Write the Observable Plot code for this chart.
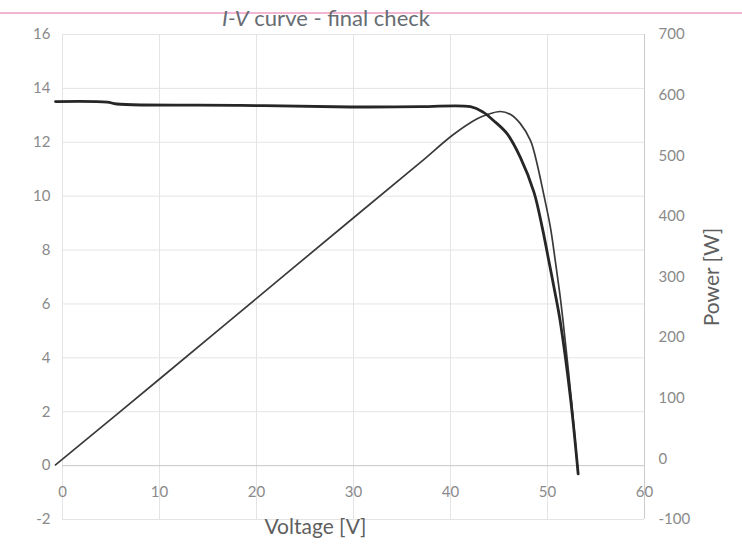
<!DOCTYPE html>
<html><head><meta charset="utf-8">
<script src="https://cdn.jsdelivr.net/npm/d3@7"></script>
<script src="https://cdn.jsdelivr.net/npm/@observablehq/plot@0.6"></script>
<style>
body{margin:0;background:#fff;}
#wrap{position:relative;width:742px;height:551px;font-family:Lato,"Open Sans",sans-serif;overflow:hidden;}
#chart{position:absolute;left:0;top:0;}
#rule{position:absolute;left:0;top:12px;width:742px;height:2px;background:#f2b6d2;}
#title{position:absolute;top:7px;left:0;width:652px;text-align:center;font-size:22px;line-height:22px;color:#666c72;white-space:nowrap;}
</style></head><body>
<div id="wrap"><div id="chart"></div><div id="rule"></div><div id="title"><i>I-V</i> curve - final check</div></div>
<script>
// I-V curve (current vs voltage)
const voltageIV = [-0.72, 4.6, 5.6, 18.4, 29.7, 36.9, 42.06, 43.4, 44.46, 45.85, 47.2, 48.6, 49.45, 50.13, 50.8, 51.3, 52.4, 53.16];
const currentIV = [13.51, 13.49, 13.42, 13.37, 13.31, 13.32, 13.32, 13.11, 12.8, 12.31, 11.44, 10.15, 8.85, 7.61, 6.37, 5.38, 2.41, -0.31];
// P-V curve (power vs voltage)
const voltageP = [-0.72, 10.1, 20.1, 30.1, 36.9, 40.3, 42.75, 43.8, 45.15, 46.2, 47.2, 48.25, 48.8, 49.6, 50.3, 50.8, 51.27, 51.6, 52.47, 53.16];
const power = [-10, 133, 266, 399, 489, 535, 561, 568, 573, 568, 553, 525, 495, 437, 382, 327, 272, 228, 96, -25];
// axes
const xTicks = [0, 10, 20, 30, 40, 50, 60];
const currentTicks = [-2, 0, 2, 4, 6, 8, 10, 12, 14, 16];
const powerTicks = [-100, 0, 100, 200, 300, 400, 500, 600, 700];

const currentDomain = [-2, 16];
const powerDomain = [-100, 700];
const toI = p => (p - powerDomain[0]) * (currentDomain[1] - currentDomain[0]) / (powerDomain[1] - powerDomain[0]) + currentDomain[0];
const toP = i => Math.round((i - currentDomain[0]) * (powerDomain[1] - powerDomain[0]) / (currentDomain[1] - currentDomain[0]) + powerDomain[0]);

const ivData = voltageIV.map((v, k) => ({v, i: currentIV[k]}));
const pData = voltageP.map((v, k) => ({v, y: toI(power[k])}));

const chart = Plot.plot({
  width: 742,
  height: 551,
  marginLeft: 62,
  marginRight: 98,
  marginTop: 34,
  marginBottom: 32,
  style: {fontFamily: "Lato, 'Open Sans', sans-serif", background: "transparent"},
  x: {domain: [0, 60], axis: null},
  y: {domain: currentDomain},
  marks: [
    Plot.gridY(currentTicks, {stroke: "#e4e4e4", strokeOpacity: 1}),
    Plot.gridX(xTicks, {stroke: "#e4e4e4", strokeOpacity: 1}),
    Plot.ruleY([0], {stroke: "#cccccc"}),
    Plot.ruleX([60], {stroke: "#cccccc"}),
    Plot.axisY(currentTicks, {anchor: "left", tickSize: 0, tickPadding: 12, fill: "#8a8a8a", fontSize: 15, label: null, tickFormat: d => String(d)}),
    Plot.axisY(powerTicks.map(toI), {anchor: "right", tickSize: 0, tickPadding: 14, fill: "#8a8a8a", fontSize: 15, label: null, tickFormat: d => String(toP(d))}),
    Plot.text(xTicks, {x: d => d, y: () => -1, text: d => String(d), fill: "#8a8a8a", fontSize: 15}),
    Plot.line(pData, {x: "v", y: "y", stroke: "#3a3a3a", strokeWidth: 1.7, curve: "catmull-rom"}),
    Plot.line(ivData, {x: "v", y: "i", stroke: "#262626", strokeWidth: 2.8, curve: "catmull-rom"}),
    Plot.text(["Voltage [V]"], {frameAnchor: "bottom", dy: 14, dx: -38, fontSize: 21, fill: "#5f5f5f"}),
    Plot.text(["Power [W]"], {frameAnchor: "right", dx: 68, rotate: -90, textAnchor: "middle", fontSize: 21, fill: "#5f5f5f"})
  ]
});
document.getElementById("chart").appendChild(chart);
</script>
</body></html>
